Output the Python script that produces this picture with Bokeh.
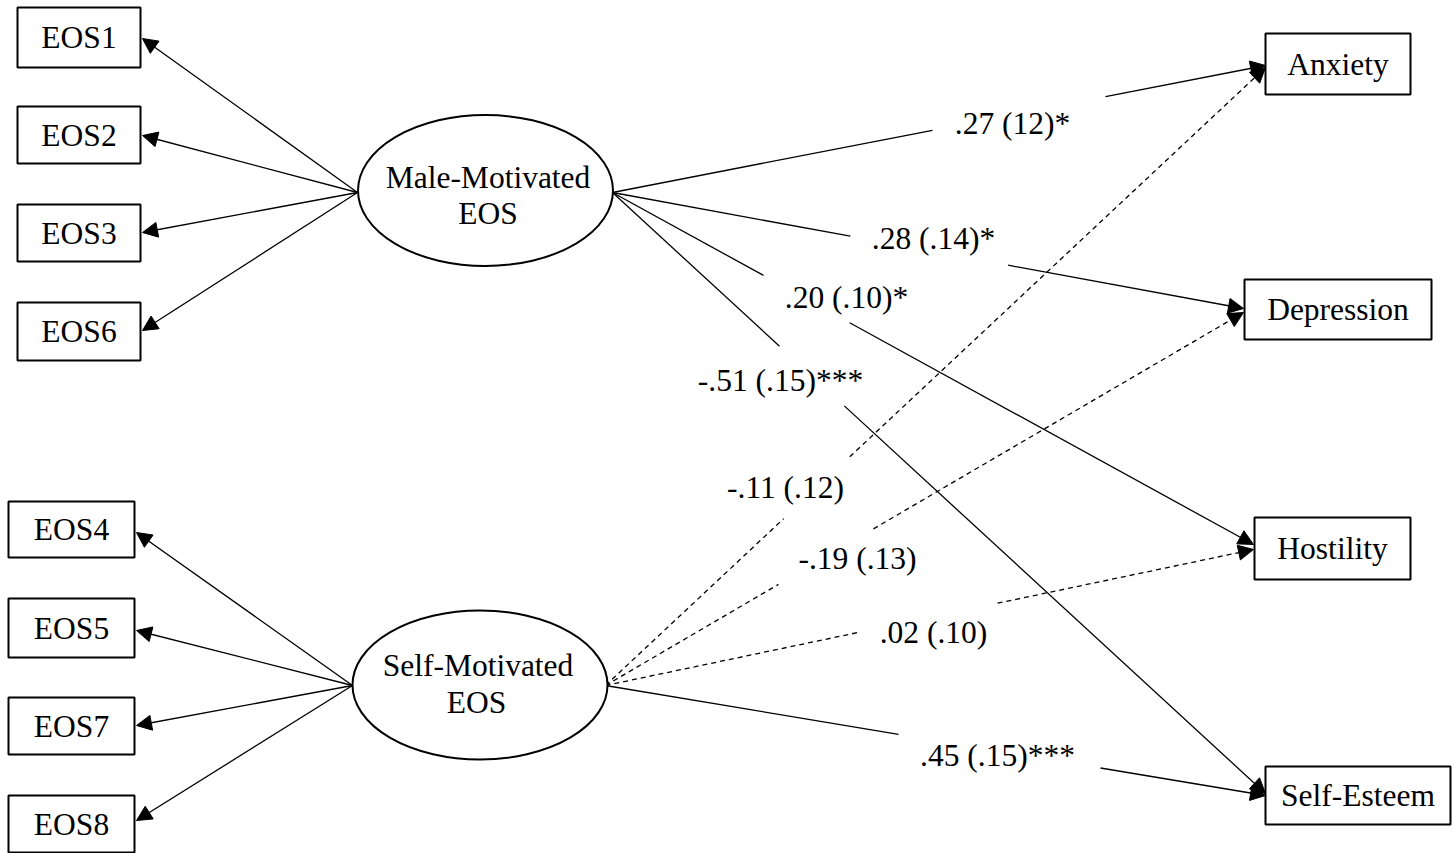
from bokeh.plotting import figure
from bokeh.models import Range1d, ColumnDataSource, Arrow, NormalHead
from bokeh.embed import file_html
from bokeh.resources import INLINE
from bokeh.core.properties import value

# ---------------- data ----------------
latent_names = ["Male-Motivated", "Self-Motivated"]
indicators_male = ["EOS1", "EOS2", "EOS3", "EOS6"]
indicators_self = ["EOS4", "EOS5", "EOS7", "EOS8"]
outcomes = ["Anxiety", "Depression", "Hostility", "Self-Esteem"]
est_male = [".27 (12)*", ".28 (.14)*", ".20 (.10)*", "-.51 (.15)***"]
est_self = ["-.11 (.12)", "-.19 (.13)", ".02 (.10)", ".45 (.15)***"]
sig_male = [True, True, True, True]
sig_self = [False, False, False, True]

# ---------------- layout (pixels) ----------------
W, H = 1453, 853
FONT = value("Liberation Serif")
FS = value("31.5px")

lat_cx = [485, 479.5]
lat_cy = [190, 684.5]
lat_w = [255, 255]
lat_h = [151, 149]
lat_left = [(357, 192), (352, 685)]
lat_right = [(612, 192), (605, 685)]

ind_left = [[17, 17, 17, 17], [8, 8, 8, 8]]
ind_right = [[140, 140, 140, 140], [134, 134, 134, 134]]
ind_top = [[7, 106, 204, 302], [501, 598, 697, 795]]
ind_bot = [[67, 163, 261, 360], [557, 657, 754, 852]]
ind_tip = [[(142, 38), (142, 135), (142, 232), (142, 330)],
           [(136, 532), (136, 630), (136, 725), (136, 820)]]

out_left = [1265, 1244, 1254, 1265]
out_right = [1410, 1431, 1410, 1450]
out_top = [33, 279, 517, 766]
out_bot = [94, 339, 579, 824]
tips_male = [(1265, 65), (1243, 308), (1253, 544), (1265, 793)]
tips_self = [(1265, 67), (1243, 312), (1253, 549), (1265, 795)]
gap_male = [(0.49, 0.755), (0.377, 0.627), (0.2356, 0.37), (0.2557, 0.355)]
gap_self = [(0.27, 0.37), (0.271, 0.42), (0.389, 0.605), (0.444, 0.75)]
lab_male = [(1012, 123), (933, 238), (846, 297), (780, 380)]
lab_self = [(785, 487), (857, 558), (933, 632), (997, 755)]

p = figure(width=W, height=H, x_range=Range1d(0, W), y_range=Range1d(H, 0),
           output_backend="svg", toolbar_location=None, min_border=0,
           x_axis_location=None, y_axis_location=None)
p.grid.visible = False
p.outline_line_color = None
p.background_fill_color = "white"
p.border_fill_color = "white"

LW = 1.3

def add_arrow(x0, y0, x1, y1, dash="solid"):
    p.add_layout(Arrow(end=NormalHead(size=15, fill_color="black", line_color="black", line_width=1),
                       x_start=x0, y_start=y0, x_end=x1, y_end=y1,
                       line_color="black", line_width=LW, line_dash=dash))

# measurement arrows
for k in range(2):
    ox, oy = lat_left[k]
    for tx, ty in ind_tip[k]:
        add_arrow(ox, oy, tx, ty)

# structural paths
for k, (tips, gaps, sigs) in enumerate([(tips_male, gap_male, sig_male), (tips_self, gap_self, sig_self)]):
    ox, oy = lat_right[k]
    for (tx, ty), (t1, t2), s in zip(tips, gaps, sigs):
        dx, dy = tx - ox, ty - oy
        dash = "solid" if s else "5 4"
        p.line([ox, ox + t1 * dx], [oy, oy + t1 * dy], line_color="black", line_width=LW, line_dash=dash)
        add_arrow(ox + t2 * dx, oy + t2 * dy, tx, ty, dash)

# indicator boxes
for k, names in enumerate([indicators_male, indicators_self]):
    src = ColumnDataSource(dict(l=ind_left[k], r=ind_right[k], t=ind_top[k], b=ind_bot[k], name=names,
                                cx=[(a + b) / 2 for a, b in zip(ind_left[k], ind_right[k])],
                                cy=[(a + b) / 2 for a, b in zip(ind_top[k], ind_bot[k])]))
    p.quad(left="l", right="r", top="t", bottom="b", source=src, fill_color="white",
           line_color="black", line_width=2)
    p.text(x="cx", y="cy", text="name", source=src, text_font=FONT, text_font_size=FS,
           text_align="center", text_baseline="middle", text_color="black")

# outcome boxes
src_o = ColumnDataSource(dict(l=out_left, r=out_right, t=out_top, b=out_bot, name=outcomes,
                              cx=[(a + b) / 2 for a, b in zip(out_left, out_right)],
                              cy=[(a + b) / 2 for a, b in zip(out_top, out_bot)]))
p.quad(left="l", right="r", top="t", bottom="b", source=src_o, fill_color="white",
       line_color="black", line_width=2)
p.text(x="cx", y="cy", text="name", source=src_o, text_font=FONT, text_font_size=FS,
       text_align="center", text_baseline="middle", text_color="black")

# latent ellipses
p.ellipse(x=lat_cx, y=lat_cy, width=lat_w, height=lat_h, fill_color="white",
          line_color="black", line_width=2)
p.text(x=[487.5, 477.5], y=[177, 665], text=latent_names, text_font=FONT, text_font_size=FS,
       text_align="center", text_baseline="middle", text_color="black")
p.text(x=[487.5, 476], y=[213, 702], text=["EOS", "EOS"], text_font=FONT, text_font_size=FS,
       text_align="center", text_baseline="middle", text_color="black")

# path estimates
p.text(x=[a for a, b in lab_male + lab_self], y=[b for a, b in lab_male + lab_self],
       text=est_male + est_self, text_font=FONT, text_font_size=FS,
       text_align="center", text_baseline="middle", text_color="black")

open("out.html", "w").write(file_html(p, INLINE))
